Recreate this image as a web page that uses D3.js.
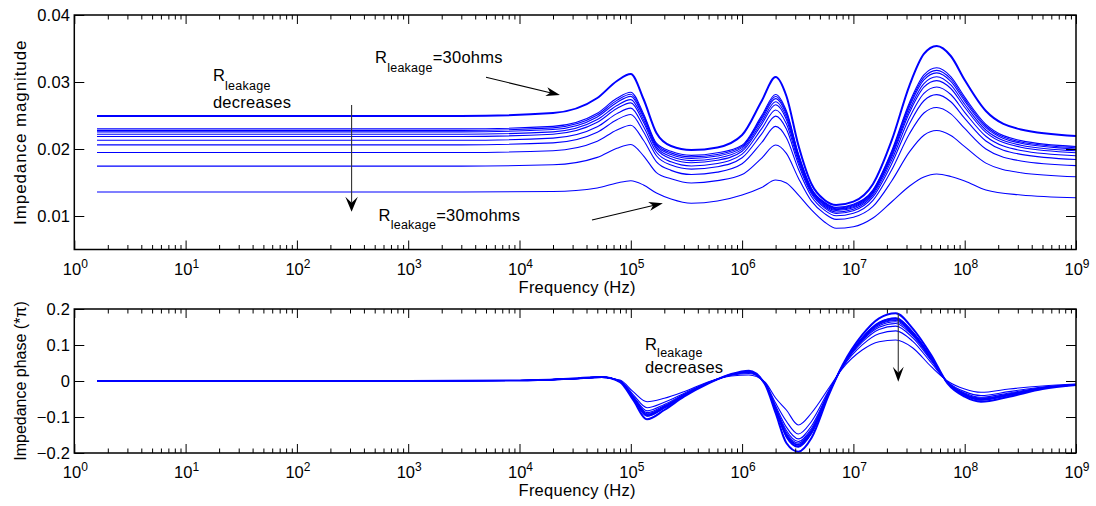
<!DOCTYPE html>
<html><head><meta charset="utf-8">
<script src="https://cdn.jsdelivr.net/npm/d3@7"></script>
<style>
body{margin:0;background:#fff;}
svg{display:block;font-family:"Liberation Sans",Arial,Helvetica,sans-serif;}
</style></head><body>
<svg id="chart" width="1096" height="506"></svg>
<script>
// ---------- DATA ----------
const decadeTicks = [1,10,100,1e3,1e4,1e5,1e6,1e7,1e8,1e9];
const magTicks = [0.01,0.02,0.03,0.04];
const phaseTicks = [-0.2,-0.1,0,0.1,0.2];

// magnitude sample frequencies (Hz)
const magFreq = [1.6,3e3,2e4,5e4,7.5e4,1e5,1.3e5,1.7e5,2.3e5,3.5e5,6e5,1e6,1.5e6,2e6,2.5e6,3.2e6,4.2e6,5.5e6,7e6,1e7,1.5e7,2.2e7,3.2e7,4.3e7,5.6e7,7.5e7,1e8,1.55e8,3.2e8,1e9];
// magnitude curves, R_leakage from 30 ohms (mag0) down to 30 mohms (mag10)
const mag0 = [0.02493,0.02493,0.02537,0.02761,0.03015,0.03119,0.02746,0.02239,0.02045,0.01985,0.02023,0.02209,0.02717,0.03075,0.02791,0.02060,0.01478,0.01239,0.01164,0.01214,0.01478,0.02120,0.02955,0.03418,0.03537,0.03388,0.03030,0.02567,0.02291,0.02194];
const mag1 = [0.02300,0.02300,0.02338,0.02533,0.02756,0.02848,0.02528,0.02087,0.01966,0.01905,0.01943,0.02057,0.02498,0.02814,0.02570,0.01933,0.01412,0.01206,0.01129,0.01177,0.01392,0.01965,0.02699,0.03106,0.03212,0.03082,0.02774,0.02367,0.02125,0.02037];
const mag2 = [0.02277,0.02277,0.02315,0.02506,0.02726,0.02817,0.02502,0.02069,0.01942,0.01882,0.01919,0.02039,0.02472,0.02783,0.02544,0.01918,0.01404,0.01196,0.01119,0.01165,0.01381,0.01947,0.02669,0.03069,0.03174,0.03046,0.02744,0.02343,0.02105,0.02019];
const mag3 = [0.02255,0.02255,0.02291,0.02479,0.02695,0.02785,0.02477,0.02051,0.01918,0.01858,0.01895,0.02021,0.02446,0.02752,0.02518,0.01903,0.01397,0.01187,0.01108,0.01154,0.01371,0.01929,0.02639,0.03032,0.03136,0.03010,0.02714,0.02319,0.02086,0.02001];
const mag4 = [0.02221,0.02221,0.02256,0.02439,0.02650,0.02737,0.02438,0.02024,0.01887,0.01826,0.01863,0.01994,0.02407,0.02706,0.02479,0.01881,0.01385,0.01173,0.01095,0.01139,0.01356,0.01901,0.02593,0.02977,0.03079,0.02956,0.02668,0.02284,0.02057,0.01973];
const mag5 = [0.02187,0.02187,0.02221,0.02398,0.02604,0.02689,0.02400,0.01997,0.01855,0.01794,0.01831,0.01967,0.02368,0.02660,0.02441,0.01859,0.01373,0.01160,0.01081,0.01124,0.01341,0.01874,0.02548,0.02922,0.03021,0.02903,0.02623,0.02249,0.02027,0.01945];
const mag6 = [0.02130,0.02130,0.02162,0.02331,0.02528,0.02610,0.02335,0.01952,0.01808,0.01746,0.01783,0.01923,0.02304,0.02583,0.02376,0.01821,0.01354,0.01141,0.01060,0.01102,0.01315,0.01828,0.02473,0.02830,0.02926,0.02813,0.02548,0.02190,0.01978,0.01899];
const mag7 = [0.02062,0.02062,0.02092,0.02251,0.02437,0.02514,0.02258,0.01899,0.01760,0.01699,0.01735,0.01869,0.02226,0.02491,0.02298,0.01777,0.01331,0.01121,0.01039,0.01079,0.01285,0.01774,0.02382,0.02720,0.02811,0.02705,0.02457,0.02119,0.01920,0.01844];
const mag8 = [0.01948,0.01948,0.01975,0.02116,0.02284,0.02355,0.02130,0.01809,0.01681,0.01619,0.01655,0.01779,0.02097,0.02337,0.02168,0.01702,0.01292,0.01088,0.01004,0.01042,0.01234,0.01683,0.02232,0.02537,0.02620,0.02525,0.02307,0.02001,0.01822,0.01752];
const mag9 = [0.01744,0.01744,0.01764,0.01875,0.02010,0.02068,0.01899,0.01648,0.01555,0.01492,0.01528,0.01618,0.01865,0.02060,0.01934,0.01568,0.01222,0.01036,0.00949,0.00982,0.01143,0.01519,0.01960,0.02206,0.02276,0.02201,0.02035,0.01789,0.01646,0.01586];
const mag10 = [0.01358,0.01358,0.01366,0.01418,0.01493,0.01527,0.01463,0.01343,0.01254,0.01190,0.01224,0.01314,0.01426,0.01537,0.01493,0.01314,0.01090,0.00911,0.00817,0.00840,0.00970,0.01209,0.01448,0.01582,0.01627,0.01590,0.01523,0.01388,0.01314,0.01273];

// phase sample frequencies (Hz), phase in units of pi
const phFreq = [1.6,1e3,1e4,3e4,5.5e4,8e4,1.05e5,1.4e5,2e5,3e5,5e5,8e5,1.15e6,1.6e6,2e6,2.5e6,3.2e6,4.2e6,6e6,8e6,1.2e7,1.7e7,2.4e7,3.4e7,5e7,7e7,1e8,1.4e8,2.5e8,5e8,1e9];
const ph0 = [0,0,0.0014,0.0069,0.0111,-0.0028,-0.0528,-0.1064,-0.0806,-0.0436,-0.0064,0.0194,0.0286,-0.0083,-0.0889,-0.1722,-0.1964,-0.1583,-0.0389,0.0444,0.1278,0.1742,0.1881,0.1464,0.0722,-0.0064,-0.0436,-0.0575,-0.0436,-0.0222,-0.0111];
const ph1 = [0,0,0.0014,0.0067,0.0109,-0.0018,-0.0489,-0.0981,-0.0751,-0.0412,-0.0056,0.0185,0.0266,-0.0074,-0.0818,-0.1566,-0.1838,-0.1465,-0.0357,0.0429,0.1207,0.1631,0.1755,0.1372,0.0667,-0.0053,-0.0400,-0.0531,-0.0400,-0.0208,-0.0106];
const ph2 = [0,0,0.0014,0.0067,0.0108,-0.0017,-0.0484,-0.0971,-0.0744,-0.0410,-0.0055,0.0184,0.0263,-0.0073,-0.0810,-0.1548,-0.1823,-0.1451,-0.0354,0.0427,0.1199,0.1618,0.1740,0.1362,0.0660,-0.0052,-0.0395,-0.0525,-0.0395,-0.0206,-0.0106];
const ph3 = [0,0,0.0014,0.0066,0.0108,-0.0016,-0.0479,-0.0961,-0.0738,-0.0407,-0.0055,0.0182,0.0261,-0.0071,-0.0801,-0.1530,-0.1808,-0.1437,-0.0350,0.0425,0.1190,0.1605,0.1725,0.1351,0.0654,-0.0051,-0.0391,-0.0520,-0.0391,-0.0205,-0.0105];
const ph4 = [0,0,0.0014,0.0066,0.0108,-0.0015,-0.0473,-0.0947,-0.0728,-0.0403,-0.0053,0.0181,0.0257,-0.0070,-0.0789,-0.1502,-0.1786,-0.1416,-0.0344,0.0422,0.1178,0.1586,0.1703,0.1335,0.0644,-0.0049,-0.0385,-0.0512,-0.0385,-0.0202,-0.0104];
const ph5 = [0,0,0.0014,0.0065,0.0107,-0.0013,-0.0466,-0.0932,-0.0718,-0.0398,-0.0052,0.0179,0.0254,-0.0068,-0.0776,-0.1475,-0.1764,-0.1396,-0.0339,0.0419,0.1165,0.1566,0.1681,0.1318,0.0634,-0.0047,-0.0378,-0.0505,-0.0378,-0.0200,-0.0103];
const ph6 = [0,0,0.0014,0.0065,0.0107,-0.0010,-0.0454,-0.0908,-0.0702,-0.0392,-0.0050,0.0176,0.0248,-0.0065,-0.0756,-0.1429,-0.1727,-0.1361,-0.0329,0.0415,0.1145,0.1534,0.1644,0.1292,0.0618,-0.0044,-0.0368,-0.0491,-0.0368,-0.0195,-0.0102];
const ph7 = [0,0,0.0014,0.0064,0.0106,-0.0007,-0.0440,-0.0878,-0.0682,-0.0383,-0.0047,0.0173,0.0241,-0.0062,-0.0731,-0.1374,-0.1682,-0.1319,-0.0318,0.0409,0.1120,0.1495,0.1599,0.1259,0.0598,-0.0040,-0.0355,-0.0476,-0.0355,-0.0190,-0.0100];
const ph8 = [0,0,0.0014,0.0063,0.0104,-0.0001,-0.0417,-0.0829,-0.0650,-0.0369,-0.0042,0.0168,0.0229,-0.0057,-0.0689,-0.1282,-0.1608,-0.1250,-0.0300,0.0400,0.1078,0.1430,0.1525,0.1205,0.0566,-0.0033,-0.0333,-0.0450,-0.0333,-0.0182,-0.0098];
const ph9 = [0,0,0.0014,0.0060,0.0102,0.0009,-0.0376,-0.0741,-0.0591,-0.0344,-0.0034,0.0158,0.0207,-0.0047,-0.0614,-0.1117,-0.1474,-0.1125,-0.0266,0.0384,0.1003,0.1313,0.1391,0.1108,0.0507,-0.0022,-0.0295,-0.0403,-0.0295,-0.0167,-0.0093];
const ph10 = [0,0,0.0014,0.0056,0.0097,0.0028,-0.0297,-0.0575,-0.0481,-0.0297,-0.0019,0.0139,0.0167,-0.0028,-0.0472,-0.0806,-0.1222,-0.0889,-0.0203,0.0353,0.0861,0.1092,0.1139,0.0925,0.0397,0,-0.0222,-0.0314,-0.0222,-0.0139,-0.0083];

const magCurves = [mag10,mag9,mag8,mag7,mag6,mag5,mag4,mag3,mag2,mag1,mag0];
const phCurves = [ph10,ph9,ph8,ph7,ph6,ph5,ph4,ph3,ph2,ph1,ph0];

// ---------- LAYOUT ----------
const svg = d3.select("#chart");
const L = 74.3, R = 1076;
const top1 = 15, bot1 = 249.5, top2 = 309, bot2 = 453;
const FS = 16.5;
const LS = 0.25;

const x = d3.scaleLog().domain([1,1e9]).range([L,R]);
const yM = d3.scaleLinear().domain([0.005,0.04]).range([bot1,top1]);
const yP = d3.scaleLinear().domain([-0.2,0.2]).range([bot2,top2]);

const minorTicks = [];
for (let n=0;n<9;n++) for (let m=2;m<=9;m++) minorTicks.push(m*Math.pow(10,n));

function drawPanel(y, yTop, yBot, yTicks, yFmt, curves, freq, ylabel, ylabelSize, ylabelSpacing){
  const g = svg.append("g");
  const clipId = "clip"+Math.round(yTop);
  svg.append("clipPath").attr("id",clipId).append("rect")
    .attr("x",L).attr("y",yTop).attr("width",R-L).attr("height",yBot-yTop);
  const line = d3.line().x(d=>x(d[0])).y(d=>y(d[1])).curve(d3.curveMonotoneX);
  const cg = g.append("g").attr("clip-path",`url(#${clipId})`);
  curves.forEach((c,i)=>{
    cg.append("path").datum(freq.map((f,j)=>[f,c[j]]))
      .attr("d",line).attr("fill","none").attr("stroke","#0000ff")
      .attr("stroke-width", i===curves.length-1 ? 2 : 1.1);
  });
  const styleAxis = sel => {
    sel.select(".domain").remove();
    sel.selectAll("line").attr("stroke","#000").attr("stroke-width",1);
    sel.selectAll("text").attr("font-size",FS).attr("fill","#000")
      .attr("letter-spacing",LS).attr("font-family","'Liberation Sans',Arial,sans-serif");
  };
  g.append("g").attr("transform",`translate(0,${yBot})`)
    .call(d3.axisBottom(x).tickValues(decadeTicks).tickSize(-9).tickSizeOuter(0).tickFormat("")).call(styleAxis);
  g.append("g").attr("transform",`translate(0,${yBot})`)
    .call(d3.axisBottom(x).tickValues(minorTicks).tickSize(-4.5).tickSizeOuter(0).tickFormat("")).call(styleAxis);
  g.append("g").attr("transform",`translate(0,${yTop})`)
    .call(d3.axisTop(x).tickValues(decadeTicks).tickSize(-9).tickSizeOuter(0).tickFormat("")).call(styleAxis);
  g.append("g").attr("transform",`translate(0,${yTop})`)
    .call(d3.axisTop(x).tickValues(minorTicks).tickSize(-4.5).tickSizeOuter(0).tickFormat("")).call(styleAxis);
  g.append("g").attr("transform",`translate(${L},0)`)
    .call(d3.axisLeft(y).tickValues(yTicks).tickSize(-10).tickSizeOuter(0).tickPadding(4).tickFormat(yFmt)).call(styleAxis);
  g.append("g").attr("transform",`translate(${R},0)`)
    .call(d3.axisRight(y).tickValues(yTicks).tickSize(-10).tickSizeOuter(0).tickFormat("")).call(styleAxis);
  g.append("rect").attr("x",L).attr("y",yTop).attr("width",R-L).attr("height",yBot-yTop)
    .attr("fill","none").attr("stroke","#000").attr("stroke-width",1.5);
  decadeTicks.forEach(t=>{
    const e = Math.round(Math.log10(t));
    const tx = g.append("text").attr("x",x(t)+1).attr("y",yBot+25).attr("text-anchor","middle")
      .attr("font-size",FS).attr("fill","#000");
    tx.append("tspan").text("10");
    tx.append("tspan").attr("dy",-7).attr("font-size",12).text(e);
  });
  g.append("text").attr("x",(L+R)/2+2).attr("y",yBot+43).attr("text-anchor","middle")
    .attr("font-size",FS).attr("letter-spacing",LS).text("Frequency (Hz)");
  g.append("text").attr("transform",`translate(26,${(yTop+yBot)/2}) rotate(-90)`)
    .attr("text-anchor","middle").attr("font-size",ylabelSize).attr("letter-spacing",ylabelSpacing).text(ylabel);
  return g;
}

drawPanel(yM, top1, bot1, magTicks, d3.format(".2f"), magCurves, magFreq, "Impedance magnitude", 17, 0.9);
drawPanel(yP, top2, bot2, phaseTicks, d=> d===0 ? "0" : d3.format(".1f")(d), phCurves, phFreq, "Impedance phase (*\u03c0)", 16, 0);

// ---------- ANNOTATIONS ----------
function rleak(px, py, rest, sub){
  const t = svg.append("text").attr("x",px).attr("y",py).attr("font-size",FS).attr("fill","#000").attr("letter-spacing",LS);
  t.append("tspan").text("R");
  t.append("tspan").attr("dy",sub).attr("font-size",12.5).text("leakage");
  if (rest) t.append("tspan").attr("dy",-sub).text(rest);
  return t;
}
function arrow(x1,y1,x2,y2,color,Lh,Wh,Nh){
  const a = Math.atan2(y2-y1,x2-x1);
  const bx = x2 - (Lh-Nh)*Math.cos(a), by = y2 - (Lh-Nh)*Math.sin(a);
  svg.append("line").attr("x1",x1).attr("y1",y1).attr("x2",bx).attr("y2",by)
    .attr("stroke",color).attr("stroke-width",1.1);
  const pts = [[0,0],[-Lh,-Wh/2],[-Lh+Nh,0],[-Lh,Wh/2]].map(([u,v])=>[
    x2 + u*Math.cos(a) - v*Math.sin(a), y2 + u*Math.sin(a) + v*Math.cos(a)]);
  svg.append("path").attr("d","M"+pts.map(p=>p.join(",")).join("L")+"Z").attr("fill","#000");
}

// top panel annotations (positions in data coordinates)
rleak(x(17.6), yM(0.0301), null, 8.5);
svg.append("text").attr("x",x(17.6)).attr("y",yM(0.02612)).attr("font-size",FS).attr("letter-spacing",LS).text("decreases");
arrow(x(310), yM(0.02657), x(310), yM(0.01064), "#333", 15, 12.5, 6);
rleak(x(503), yM(0.03279), "=30ohms", 8.5);
arrow(x(5000), yM(0.0307), x(23100), yM(0.02806), "#000", 14, 9, 4);
rleak(x(541), yM(0.0093), "=30mohms", 8.5);
arrow(x(44800), yM(0.0094), x(1.94e5), yM(0.0119), "#000", 14, 9, 4);

// bottom panel annotations
rleak(x(1.34e5), yP(0.0861), null, 6.5);
svg.append("text").attr("x",x(1.34e5)).attr("y",yP(0.0235)).attr("font-size",FS).attr("letter-spacing",LS).text("decreases");
arrow(x(2.53e7), yP(0.188), x(2.53e7), yP(-0.002), "#333", 15, 11, 6);
</script>
</body></html>
